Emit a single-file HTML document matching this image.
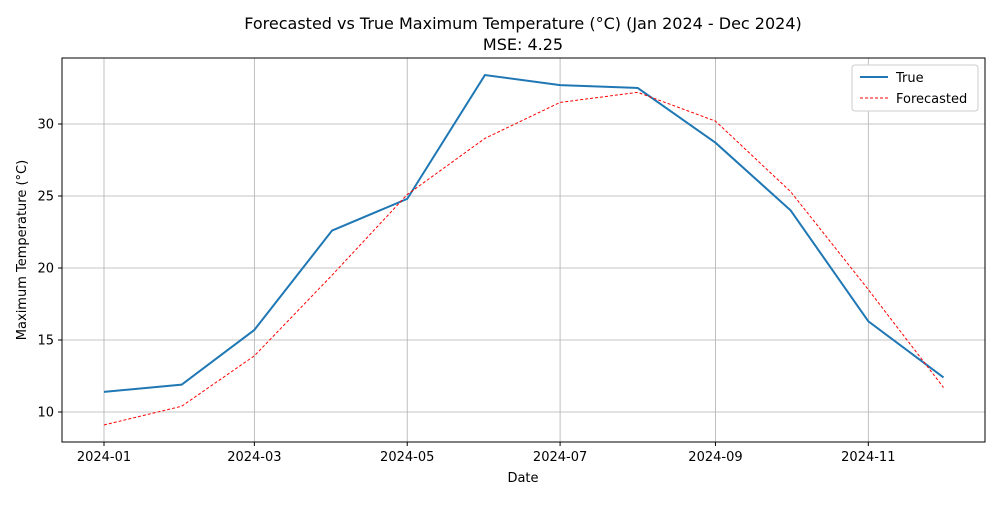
<!DOCTYPE html>
<html><head><meta charset="utf-8"><style>
body{margin:0;background:#fff;font-family:"Liberation Sans","DejaVu Sans",sans-serif;}
svg text{font-family:"DejaVu Sans","Liberation Sans",sans-serif;}
</style></head><body>
<svg id="chart" width="1000" height="500">
<rect width="1000" height="500" fill="#fff"/>
<text x="523" y="29" text-anchor="middle" font-size="16">Forecasted vs True Maximum Temperature (°C) (Jan 2024 - Dec 2024)</text>
<text x="523" y="50" text-anchor="middle" font-size="16">MSE: 4.25</text>
<g id="grid"></g><g id="series"></g><g id="axes"></g>
<text x="523" y="482" text-anchor="middle" font-size="13">Date</text>
<text transform="translate(26,250) rotate(-90)" text-anchor="middle" font-size="13">Maximum Temperature (°C)</text>
<g>
<rect x="852" y="65" width="126" height="46" fill="#fff" stroke="#ccc" rx="3"/>
<line x1="860" y1="77" x2="888" y2="77" stroke="#1f77b4" stroke-width="2"/>
<text x="896" y="82" font-size="13">True</text>
<line x1="860" y1="98" x2="888" y2="98" stroke="red" stroke-width="1" stroke-dasharray="3,2"/>
<text x="896" y="103" font-size="13">Forecasted</text>
</g>
</svg>
<script>
const dayOffsets=[0,31,60,91,121,152,182,213,244,274,305,335];
const trueVals=[11.4,11.9,15.7,22.6,24.8,33.4,32.7,32.5,28.7,24.0,16.3,12.4];
const forecastVals=[9.1,10.4,13.9,19.5,25.1,29.0,31.5,32.2,30.2,25.3,18.5,11.7];
const yTicks=[10,15,20,25,30];
const xTickDays=[0,60,121,182,244,305];
const xTickLabels=["2024-01","2024-03","2024-05","2024-07","2024-09","2024-11"];
const L=62,R=985,T=58,B=442;
const x=d=>104+d*2.506;
const y=v=>412-(v-10)*14.4;
const NS="http://www.w3.org/2000/svg";
function mk(p,tag,attrs){const e=document.createElementNS(NS,tag);for(const k in attrs)e.setAttribute(k,attrs[k]);p.appendChild(e);return e;}
const grid=document.getElementById('grid'),axes=document.getElementById('axes'),series=document.getElementById('series');
yTicks.forEach(v=>{
 const g=mk(grid,'line',{x1:L,x2:R,y1:y(v),y2:y(v),stroke:'#b0b0b0','stroke-width':0.8});
 
 
 mk(axes,'line',{x1:L-4,x2:L,y1:y(v),y2:y(v),stroke:'#000'});
 const t=mk(axes,'text',{x:L-8,y:y(v)+4.5,'text-anchor':'end','font-size':13});t.textContent=v;
 
 
});
xTickDays.forEach((d,i)=>{
 const g=mk(grid,'line',{x1:x(d),x2:x(d),y1:T,y2:B,stroke:'#b0b0b0','stroke-width':0.8});
 
 
 mk(axes,'line',{x1:x(d),x2:x(d),y1:B,y2:B+4,stroke:'#000'});
 const t=mk(axes,'text',{x:x(d),y:B+19,'text-anchor':'middle','font-size':13});t.textContent=xTickLabels[i];
 
 
});
const frame=mk(axes,'rect',{x:L,y:T,width:R-L,height:B-T,fill:'none',stroke:'#000','stroke-width':1});


const pt=vals=>vals.map((v,i)=>x(dayOffsets[i])+','+y(v)).join(' ');
const l1=mk(series,'polyline',{points:pt(trueVals),fill:'none',stroke:'#1f77b4','stroke-width':2});


const l2=mk(series,'polyline',{points:pt(forecastVals),fill:'none',stroke:'red','stroke-width':1,'stroke-dasharray':'3,2'});


</script>
</body></html>
